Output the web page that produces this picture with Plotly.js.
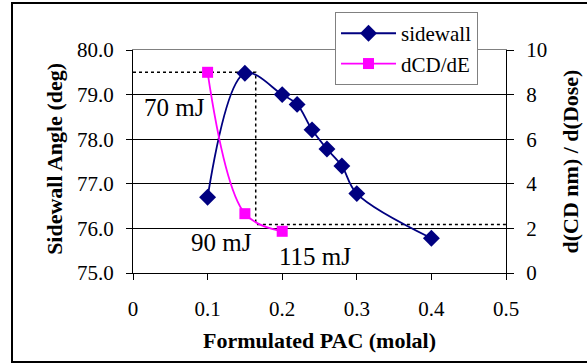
<!DOCTYPE html>
<html>
<head>
<meta charset="utf-8">
<script src="https://cdn.plot.ly/plotly-3.0.1.min.js"></script>
<style>
  html, body { margin: 0; padding: 0; background: #ffffff; }
  #wrap { position: relative; width: 587px; height: 364px; overflow: hidden; }
  #chart { position: absolute; left: 0; top: 0; width: 587px; height: 364px; }
  #frame { position: absolute; left: 11px; top: 2px; width: 590px; height: 357px;
           border: 2px solid #000; pointer-events: none; }
</style>
</head>
<body>
<div id="wrap">
  <div id="chart"></div>
  <div id="frame"></div>
</div>
<script>
// PAC concentration (molal) and measured values
var sidewallX = [0.10, 0.15, 0.20, 0.22, 0.24, 0.26, 0.28, 0.30, 0.40];
var sidewallY = [76.7, 79.48, 79.0, 78.78, 78.21, 77.78, 77.40, 76.78, 75.78];

var dcdX = [0.10, 0.15, 0.20];
var dcdY = [9.0, 2.66, 1.87];

// dotted guide lines (left-axis units)
var guideX = [0, 0.1645, 0.1645, 0.5];
var guideY = [79.5, 79.5, 76.09, 76.09];

// inner gridline values (left axis)
var gridVals = [76, 77, 78, 79];

// dose labels
var doseLabels = ["70 mJ", "90 mJ", "115 mJ"];
var doseX = [0.055, 0.118, 0.244];
var doseY = [78.71, 75.69, 75.38];

var FONT = 'Liberation Serif, Times New Roman, serif';

var traces = [
  {
    x: guideX, y: guideY, type: 'scatter', mode: 'lines',
    line: {color: '#000000', width: 1.5, dash: 'dot'},
    showlegend: false, hoverinfo: 'skip'
  },
  {
    x: sidewallX, y: sidewallY, type: 'scatter', mode: 'lines+markers',
    name: 'sidewall',
    line: {color: '#000080', width: 1.8, shape: 'spline', smoothing: 1},
    marker: {symbol: 'diamond', size: 13, color: '#000080'}
  },
  {
    x: dcdX, y: dcdY, type: 'scatter', mode: 'lines+markers',
    name: 'dCD/dE', yaxis: 'y2',
    line: {color: '#ff00ff', width: 1.8, shape: 'spline', smoothing: 1},
    marker: {symbol: 'square', size: 11, color: '#ff00ff'}
  },
  {
    // invisible helper trace to activate the grid axis and top border axis
    x: [0], y: [75], xaxis: 'x2', yaxis: 'y3', type: 'scatter', mode: 'markers',
    marker: {opacity: 0}, showlegend: false, hoverinfo: 'skip'
  }
];

var annotations = doseLabels.map(function (t, i) {
  return {
    text: t, x: doseX[i], y: doseY[i], xref: 'x', yref: 'y',
    showarrow: false, font: {family: FONT, size: 25, color: '#000'}
  };
});
annotations.push({
  text: '<b>Sidewall Angle (deg)</b>', xref: 'paper', yref: 'paper',
  x: -0.209, y: 0.512, xanchor: 'center', yanchor: 'middle',
  textangle: -90, showarrow: false, font: {family: FONT, size: 22, color: '#000'}
});

var layout = {
  width: 587, height: 364,
  margin: {l: 133, r: 81, t: 44, b: 91},
  paper_bgcolor: '#ffffff', plot_bgcolor: '#ffffff',
  font: {family: FONT, size: 21, color: '#000'},
  showlegend: true,
  legend: {
    x: 0.5416, y: 1.17, xanchor: 'left', yanchor: 'top',
    bgcolor: '#ffffff', bordercolor: '#808080', borderwidth: 1,
    font: {family: FONT, size: 21, color: '#000'},
    traceorder: 'normal', itemwidth: 55
  },
  xaxis: {
    range: [0, 0.5], dtick: 0.1, tick0: 0,
    showgrid: false, zeroline: false,
    showline: true, linecolor: '#000', linewidth: 1,
    ticks: 'outside', ticklen: 6, tickcolor: '#000',
    ticklabelstandoff: 11,
    tickfont: {family: FONT, size: 21},
    title: {text: '<b>Formulated PAC (molal)</b>', standoff: 12,
            font: {family: FONT, size: 22}}
  },
  xaxis2: {
    range: [0, 0.5], overlaying: 'x', side: 'top',
    showgrid: false, zeroline: false, showticklabels: false, ticks: '',
    showline: true, linecolor: '#808080', linewidth: 1.5
  },
  yaxis: {
    range: [75, 80], dtick: 1, tick0: 75, tickformat: '.1f',
    showgrid: false, zeroline: false,
    showline: true, linecolor: '#000', linewidth: 1,
    ticks: 'outside', ticklen: 6, tickcolor: '#000',
    ticklabelstandoff: 8,
    tickfont: {family: FONT, size: 21}
  },
  yaxis3: {
    range: [75, 80], overlaying: 'y', tickvals: gridVals,
    showgrid: true, gridcolor: '#000', gridwidth: 1,
    showticklabels: false, ticks: '', zeroline: false, showline: false
  },
  yaxis2: {
    range: [0, 10], dtick: 2, tick0: 0,
    overlaying: 'y', side: 'right',
    showgrid: false, zeroline: false,
    showline: true, linecolor: '#000', linewidth: 1,
    ticks: 'outside', ticklen: 7, tickcolor: '#000',
    ticklabelstandoff: 8,
    tickfont: {family: FONT, size: 21},
    title: {text: '<b>d(CD nm) / d(Dose)</b>', standoff: 16,
            font: {family: FONT, size: 22}}
  },
  annotations: annotations
};

Plotly.newPlot('chart', traces, layout, {displayModeBar: false, staticPlot: true});
</script>
</body>
</html>
